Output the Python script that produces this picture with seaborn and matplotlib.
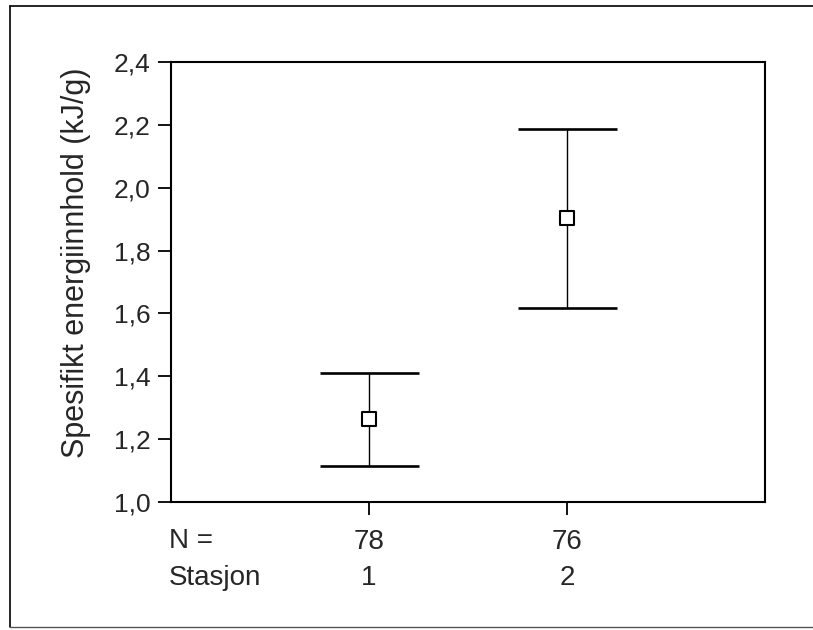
import matplotlib
matplotlib.use("Agg")
import matplotlib.pyplot as plt
import matplotlib.transforms as mtransforms
from matplotlib.lines import Line2D
import seaborn as sns
import pandas as pd

stations = [1, 2]
n_values = [78, 76]
means = [1.264, 1.904]
lower = [1.113, 1.617]
upper = [1.410, 2.186]
y_ticks = [1.0, 1.2, 1.4, 1.6, 1.8, 2.0, 2.2, 2.4]
y_tick_labels = ["1,0", "1,2", "1,4", "1,6", "1,8", "2,0", "2,2", "2,4"]

sns.set_style("ticks")
plt.rcParams["font.family"] = ["Liberation Sans", "DejaVu Sans"]

df = pd.DataFrame({"Stasjon": stations, "mean": means, "lo": lower, "hi": upper})

FS = 19
FS2 = 20
fig = plt.figure(figsize=(8.13, 6.3), dpi=100)
ax = fig.add_axes([171/813, 1 - 502/630, (765 - 171)/813, (502 - 62)/630])

cap = 0.25
ax.vlines(df["Stasjon"], df["lo"], df["hi"], color="black", lw=1.0)
ax.hlines(df["hi"], df["Stasjon"] - cap, df["Stasjon"] + cap, color="black", lw=1.9)
ax.hlines(df["lo"], df["Stasjon"] - cap, df["Stasjon"] + cap, color="black", lw=1.9)
sns.scatterplot(data=df, x="Stasjon", y="mean", marker="s", s=100,
                facecolor="white", edgecolor="black", linewidth=1.5, ax=ax, zorder=5)

ax.set_xlim(0, 3)
ax.set_ylim(1.0, 2.4)
ax.set_yticks(y_ticks)
ax.set_yticklabels(y_tick_labels, fontsize=FS)
ax.set_xticks(stations)
ax.set_xticklabels([str(n) for n in n_values], fontsize=FS2)
ax.tick_params(axis="both", direction="out", length=9.5, width=1.3, color="black", pad=5)
ax.tick_params(axis="x", pad=10)
ax.set_xlabel("")
ax.set_ylabel("Spesifikt energiinnhold (kJ/g)", fontsize=22)
ax.yaxis.set_label_coords(-0.135, 0.543)
for sp in ax.spines.values():
    sp.set_visible(True)
    sp.set_linewidth(1.5)
    sp.set_color("black")

trans = mtransforms.blended_transform_factory(ax.transData, fig.transFigure)
ytop = 1 - 541/630
ybot = 1 - 578/630
fig.text(169/813, ytop, "N =", fontsize=FS2, ha="left", va="center")
fig.text(169/813, ybot, "Stasjon", fontsize=FS2, ha="left", va="center")
for s in stations:
    ax.text(s, ybot, str(s), fontsize=FS2, ha="center", va="center", transform=trans)

# figure frame (top, left, bottom)
fig.add_artist(Line2D([10/813, 1], [1 - 6/630, 1 - 6/630], transform=fig.transFigure, color="black", lw=1.2))
fig.add_artist(Line2D([10/813, 10/813], [1 - 6/630, 1 - 627/630], transform=fig.transFigure, color="black", lw=1.2))
fig.add_artist(Line2D([10/813, 1], [1 - 627/630, 1 - 627/630], transform=fig.transFigure, color="#555555", lw=1.0))

fig.savefig("out.png", dpi=100)
